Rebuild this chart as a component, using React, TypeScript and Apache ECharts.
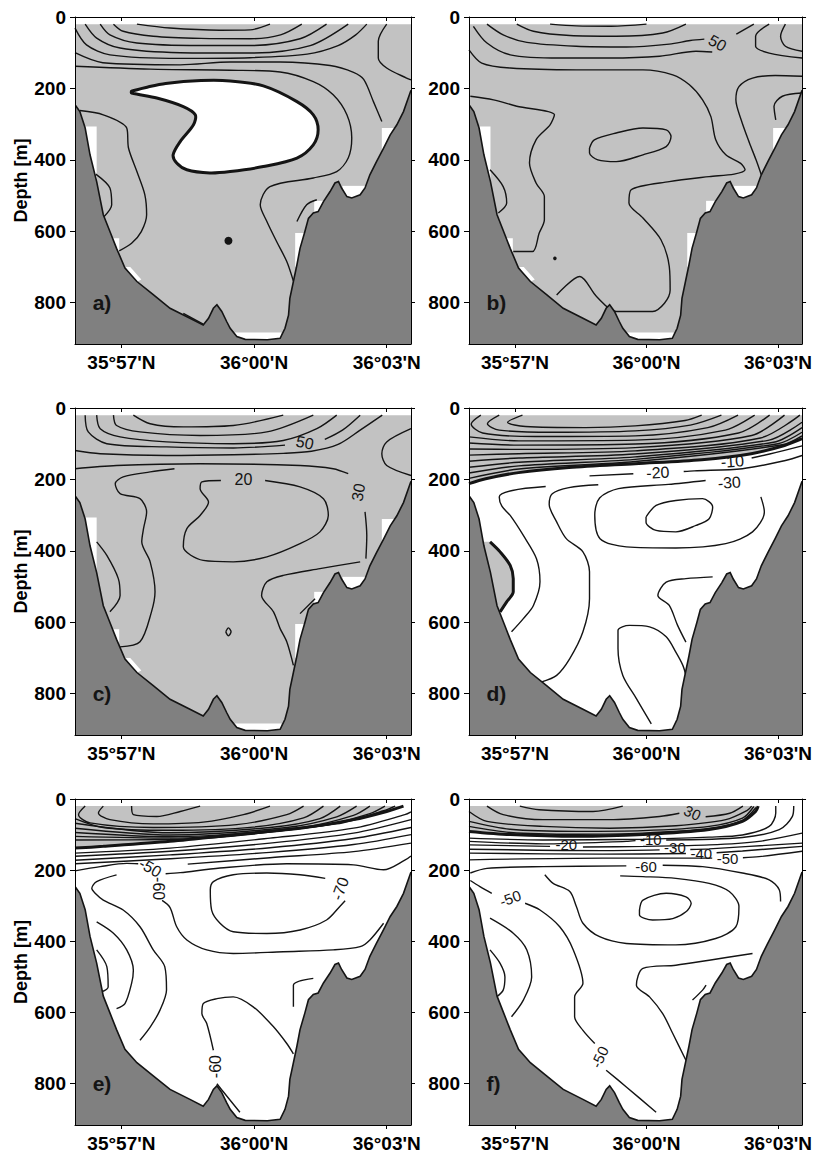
import React, { useEffect, useRef } from "react";
import * as echarts from "echarts";

type Pt = [number, number];
type Lbl = [string, number, number, number];

// ---- axes ----
const LAT_MIN = -4.05;
const LAT_MAX = 3.55;
const DEPTH_MAX = 916;
const DATA_TOP = 20;
const latTicks = [-3, 0, 3];
const latTickLabels = ["35°57'N", "36°00'N", "36°03'N"];
const depthTicks = [0, 200, 400, 600, 800];
const panelLetters = ["a)", "b)", "c)", "d)", "e)", "f)"];
const letterPos: Pt = [-3.65, 800];

// ---- bathymetry (lat minutes from 36°00'N, depth m) ----
const bathymetry: Pt[] = [
  [-4.05, 246], [-3.94, 265], [-3.82, 311], [-3.71, 386], [-3.56, 461], [-3.41, 554], [-3.26, 601],
  [-3.11, 648], [-2.92, 703], [-2.65, 741], [-2.28, 778], [-1.9, 816], [-1.45, 844], [-1.15, 863],
  [-1.03, 844], [-0.92, 816], [-0.84, 806], [-0.73, 825], [-0.62, 853], [-0.54, 872], [-0.39, 895],
  [-0.2, 903], [0.3, 904], [0.59, 900], [0.7, 872], [0.78, 835], [0.81, 788], [0.89, 741], [0.97, 694],
  [1.04, 648], [1.15, 601], [1.23, 564], [1.34, 549], [1.45, 545], [1.57, 517], [1.72, 489], [1.83, 465],
  [1.91, 461], [1.98, 479], [2.1, 503], [2.21, 507], [2.4, 498], [2.51, 479], [2.62, 442], [2.77, 405],
  [2.93, 367], [3.08, 330], [3.23, 302], [3.38, 265], [3.55, 205],
];

// white (no data) gaps along the bottom, panels a-c
const maskGaps: Pt[][] = [
  [[-3.83, 307], [-3.56, 307], [-3.56, 461], [-3.71, 386], [-3.82, 311]],
  [[-3.2, 620], [-3.05, 620], [-3.05, 660], [-3.2, 640]],
  [[-2.9, 700], [-2.8, 700], [-2.55, 735], [-2.7, 745]],
  [[-0.45, 884], [0.62, 884], [0.62, 916], [-0.45, 916]],
  [[0.93, 605], [1.15, 605], [1.15, 700], [0.93, 700]],
  [[1.36, 515], [1.6, 515], [1.6, 560], [1.36, 560]],
  [[2.0, 473], [2.55, 473], [2.55, 520], [2.0, 520]],
  [[2.89, 311], [3.2, 311], [3.2, 380], [2.89, 380]],
];

// ---- panel a ----
const thinA: Pt[][] = [
  [[-2.65, 20], [-1.9, 31], [-0.77, 37], [-0.09, 36], [0.36, 20]],
  [[-3.18, 20], [-2.96, 40], [-2.28, 54], [-1.2, 60], [-0.09, 61], [0.6, 50], [1.08, 20]],
  [[-3.48, 20], [-3.26, 50], [-2.65, 73], [-1.22, 80], [-0.09, 80], [1.04, 61], [1.64, 20]],
  [[-3.82, 20], [-3.56, 59], [-3.03, 87], [-1.67, 100], [-0.09, 101], [1.27, 80], [2.13, 20]],
  [[-4.05, 31], [-3.79, 78], [-3.26, 106], [-1.67, 116], [-0.09, 114], [1.2, 104], [1.9, 80], [2.3, 50], [2.55, 20]],
  [[-4.05, 100], [-3.42, 128], [-1.67, 134], [-0.54, 126], [0.59, 126], [1.72, 136], [2.25, 155], [2.48, 175], [2.7, 237], [2.89, 293]],
  [[-4.05, 138], [-2.35, 146], [-0.54, 149], [0.59, 154], [1.34, 181], [1.79, 218], [2.1, 274], [2.21, 339], [2.13, 395], [1.87, 433], [1.34, 451], [0.36, 475], [0.14, 526], [0.29, 573], [0.51, 629], [0.74, 685], [0.89, 740]],
  [[3.0, 20], [2.81, 68], [2.81, 115], [3.0, 143], [3.45, 171], [3.55, 176]],
  [[-3.94, 262], [-3.41, 274], [-2.88, 311], [-2.84, 367], [-2.65, 433], [-2.47, 498], [-2.43, 554], [-2.55, 601], [-2.77, 634], [-3.05, 655]],
  [[-3.58, 440], [-3.26, 479], [-3.22, 526], [-3.4, 560]],
  [[0.97, 573], [1.19, 526], [1.42, 512]],
  [[-1.6, 830], [-1.15, 860]],
];
const blobA: Pt[] = [
  [-2.77, 208], [-2.4, 196], [-2.0, 186], [-1.2, 178], [-0.54, 179], [0.21, 193], [0.97, 237], [1.34, 274],
  [1.45, 316], [1.34, 358], [0.97, 395], [0.21, 419], [-0.54, 433], [-1.0, 437], [-1.52, 428], [-1.75, 409],
  [-1.83, 386], [-1.67, 349], [-1.37, 302], [-1.33, 274], [-1.6, 251], [-2.2, 227], [-2.77, 213],
];
const dotsA: Pt[] = [[-0.58, 627]];

// ---- panel b ----
const thinB: Pt[][] = [
  [[-2.2, 20], [-1.6, 25], [-0.8, 26], [0, 20]],
  [[-2.96, 20], [-2.58, 40], [-1.75, 52], [-0.69, 54], [0.37, 45], [0.9, 20]],
  [[-3.64, 20], [-3.27, 50], [-2.73, 71], [-1.6, 82], [-0.46, 84], [0.52, 76], [1.0, 66], [1.32, 62]],
  [[2.05, 48], [2.45, 20]],
  [[-3.95, 26], [-3.64, 73], [-3.11, 106], [-1.98, 115], [-0.84, 115], [0.3, 110], [1.13, 96], [1.5, 98]],
  [[3.17, 20], [3.06, 54], [3.17, 82], [3.55, 96]],
  [[2.8, 20], [2.49, 54], [2.49, 82], [2.8, 101], [3.55, 115]],
  [[-4.05, 92], [-3.76, 129], [-3.11, 143], [-1.6, 148], [-0.08, 148], [0.6, 162], [0.98, 190], [1.28, 232], [1.47, 279], [1.58, 344], [1.81, 386], [2.15, 410], [2.25, 428], [2.0, 440], [1.43, 447], [0.52, 461], [-0.35, 484], [-0.4, 521], [-0.08, 563], [0.33, 624], [0.52, 699], [0.54, 765], [0.41, 802], [0.14, 825], [-0.69, 825], [-1.14, 783], [-1.52, 727], [-2.05, 779]],
  [[3.55, 166], [2.94, 164], [2.42, 171], [2.11, 195], [2.04, 232], [2.16, 288], [2.35, 353], [2.5, 400], [2.62, 442]],
  [[3.55, 213], [3.1, 222], [2.91, 250], [2.95, 288]],
  [[-4.02, 222], [-3.49, 232], [-2.96, 250], [-2.1, 274], [-2.2, 302], [-2.52, 344], [-2.67, 409], [-2.52, 465], [-2.33, 503], [-2.33, 568], [-2.45, 606], [-2.6, 657], [-3.04, 657]],
  [[-3.57, 428], [-3.27, 475], [-3.19, 521], [-3.38, 549]],
  [[-1.3, 367], [-1.19, 344], [-0.69, 325], [-0.08, 311], [0.45, 316], [0.56, 335], [0.45, 363], [-0.08, 386], [-0.69, 405], [-1.11, 400], [-1.3, 381], [-1.3, 367]],
];
const dotsB: Pt[] = [[-2.09, 676]];
const labelsB: Lbl[] = [["50", 1.62, 73, -30]];

// ---- panel c ----
const thinC: Pt[][] = [
  [[-2.73, 20], [-2.35, 44], [-1.6, 53], [-0.47, 49], [0.66, 20]],
  [[-3.18, 20], [-3.11, 49], [-2.58, 67], [-1.22, 77], [0.29, 67], [1.34, 20]],
  [[-3.56, 20], [-3.48, 58], [-3.03, 81], [-1.98, 95], [-0.47, 100], [0.66, 91], [1.42, 58], [1.87, 20]],
  [[-3.82, 20], [-3.75, 67], [-3.33, 100], [-1.98, 109], [-0.47, 112], [0.7, 104]],
  [[1.6, 88], [2.0, 62], [2.4, 20]],
  [[-4.05, 119], [-3.48, 128], [-1.98, 133], [-0.47, 131], [0.66, 127], [1.3, 121], [1.9, 102], [2.4, 62], [2.9, 20]],
  [[3.55, 58], [3.0, 95], [2.89, 128], [3.0, 161], [3.55, 189]],
  [[-4.05, 170], [-3.11, 161], [-1.22, 156], [1.04, 161], [1.79, 170], [2.13, 184]],
  [[2.51, 291], [2.55, 357], [2.53, 422]],
  [[2.4, 431], [1.49, 450], [0.66, 469], [0.29, 487], [0.17, 525], [0.44, 571], [0.59, 618], [0.74, 655], [0.89, 721]],
  [[1.04, 576], [1.38, 534]],
  [[0.25, 203], [1.04, 221], [1.57, 254], [1.68, 301], [1.49, 347], [1.04, 380], [0.29, 417], [-0.47, 431], [-1.15, 427], [-1.6, 389], [-1.52, 338], [-1.22, 301], [-1.03, 263], [-1.22, 226], [-1.18, 207], [-0.75, 203]],
  [[-1.8, 170], [-2.35, 179], [-2.96, 193], [-3.14, 212], [-3.03, 240], [-2.58, 254], [-2.43, 291], [-2.5, 338], [-2.54, 375], [-2.35, 431], [-2.24, 515], [-2.32, 571], [-2.58, 655], [-3.03, 669]],
  [[-3.56, 375], [-3.33, 413], [-3.07, 478], [-3.03, 525], [-3.26, 571]],
  [[-0.64, 627], [-0.58, 616], [-0.52, 627], [-0.58, 638], [-0.64, 627]],
];
const labelsC: Lbl[] = [["50", 1.15, 97, -12], ["20", -0.24, 201, 0], ["30", 2.36, 236, 80]];

// ---- panel d ----
const thickD: Pt[] = [[-4.05, 212], [-3.67, 198], [-2.92, 181], [-1.77, 167], [-0.26, 156], [1.26, 145], [2.39, 128], [3.15, 105], [3.55, 86]];
const leftThickD: Pt[] = [[-3.57, 375], [-3.34, 403], [-3.11, 441], [-3.04, 478], [-3.04, 515], [-3.19, 543], [-3.34, 571]];
const thinD: Pt[][] = [
  [[-2.83, 20], [-3.17, 40], [-2.76, 52], [-1.39, 55], [-0.26, 50], [0.88, 35], [1.26, 20]],
  [[-3.36, 20], [-3.63, 44], [-3.36, 62], [-2.15, 68], [-0.26, 64], [1.0, 48], [1.71, 20]],
  [[-3.78, 20], [-4.0, 45], [-3.74, 70], [-2.53, 80], [-0.26, 78], [1.4, 55], [2.09, 20]],
  [[-4.05, 81], [-2.91, 92], [-0.26, 90], [1.8, 62], [2.47, 20]],
  [[-4.05, 98], [-2.91, 104], [-0.26, 101], [2.1, 70], [2.81, 20]],
  [[-4.05, 115], [-2.91, 116], [-0.26, 111], [2.4, 77], [3.15, 20]],
  [[-4.05, 132], [-2.91, 128], [-0.26, 120], [2.6, 84], [3.5, 20]],
  [[-4.05, 149], [-2.91, 140], [-0.26, 129], [2.8, 90], [3.55, 40]],
  [[-4.05, 166], [-2.91, 152], [-0.26, 137], [2.9, 96], [3.55, 55]],
  [[-4.05, 182], [-2.91, 162], [-0.26, 144], [3.0, 100], [3.55, 68]],
  [[-4.05, 197], [-2.91, 171], [-0.26, 150], [3.1, 103], [3.55, 78]],
  [[2.4, 140], [2.81, 129], [3.55, 106]],
  [[-1.3, 190], [-0.3, 184]],
  [[0.85, 178], [1.09, 176], [2.19, 170], [3.17, 147], [3.55, 133]],
  [[1.35, 203], [0.5, 214], [-0.64, 226], [-1.07, 252], [-1.18, 300], [-1.06, 366], [-0.46, 389], [0.67, 392], [1.81, 380], [2.42, 347], [2.69, 291], [2.61, 249]],
  [[-0.01, 305], [0.22, 273], [0.67, 259], [1.28, 254], [1.51, 277], [1.43, 310], [1.13, 329], [0.67, 347], [0.22, 343], [-0.01, 320], [-0.01, 305]],
  [[-2.3, 220], [-3.06, 231], [-3.36, 249], [-3.3, 275], [-3.11, 301], [-2.81, 357], [-2.51, 422], [-2.43, 487], [-2.58, 553], [-2.81, 590], [-3.08, 627]],
  [[-1.1, 215], [-1.77, 223], [-2.15, 240], [-2.22, 270], [-2.05, 319], [-1.83, 366], [-1.45, 403], [-1.3, 459], [-1.3, 534], [-1.45, 627], [-1.75, 702], [-2.05, 749], [-2.39, 767]],
  [[0.11, 885], [-0.23, 814], [-0.54, 749], [-0.65, 674], [-0.65, 623], [-0.39, 609], [0.07, 613], [0.45, 641], [0.67, 684], [0.83, 721], [0.9, 749]],
  [[1.51, 473], [0.9, 478], [0.45, 488], [0.26, 525], [0.52, 553], [0.71, 609], [0.9, 656]],
];
const labelsD: Lbl[] = [["-10", 1.96, 150, 4], ["-20", 0.26, 181, 3], ["-30", 1.89, 209, 4]];

// ---- panel e ----
const thickE: Pt[] = [[-4.05, 138], [-3.41, 133], [-1.9, 119], [-0.39, 100], [1.12, 81], [2.25, 58], [3.0, 35], [3.38, 20]];
const thinE: Pt[][] = [
  [[-2.77, 20], [-2.73, 44], [-2.2, 49], [-1.67, 35], [-1.22, 20]],
  [[-3.41, 20], [-3.52, 39], [-3.26, 58], [-2.28, 70], [-1.15, 65], [-0.24, 44], [0.36, 20]],
  [[-3.82, 20], [-3.97, 44], [-3.71, 67], [-2.28, 80], [-0.39, 72], [0.74, 44], [1.12, 20]],
  [[-4.05, 55], [-3.41, 80], [-1.9, 88], [-0.02, 79], [1.12, 53], [1.57, 20]],
  [[-4.05, 68], [-1.9, 95], [0.36, 80], [1.49, 55], [1.95, 20]],
  [[-4.05, 82], [-1.9, 101], [0.74, 80], [1.87, 50], [2.32, 20]],
  [[-4.05, 94], [-1.9, 106], [1.12, 79], [2.25, 46], [2.62, 20]],
  [[-4.05, 105], [-1.9, 110], [1.49, 76], [2.62, 41], [2.96, 20]],
  [[-4.05, 115], [-1.9, 114], [1.87, 70], [2.93, 33], [3.19, 20]],
  [[-4.05, 152], [-1.9, 138], [0.36, 110], [2.25, 82], [3.41, 44], [3.55, 36]],
  [[-4.05, 161], [-1.9, 147], [0.36, 124], [2.25, 96], [3.55, 58]],
  [[-4.05, 172], [-1.9, 157], [0.36, 137], [2.25, 111], [3.55, 80]],
  [[-4.05, 182], [-1.9, 168], [0.36, 150], [2.25, 128], [3.55, 100]],
  [[-1.5, 183], [0.36, 165], [2.25, 148], [3.55, 124]],
  [[-4.05, 202], [-3.48, 190], [-2.88, 181], [-2.62, 182]],
  [[-2.0, 210], [-1.67, 207], [-0.77, 194], [0.74, 182], [2.25, 185], [2.93, 199], [3.41, 172], [3.55, 160]],
  [[-2.08, 285], [-1.9, 305], [-1.75, 359], [-1.52, 396], [-1.07, 424], [-0.47, 434], [0.66, 429], [1.79, 424], [2.4, 415], [2.62, 396], [2.93, 349]],
  [[-3.11, 213], [-3.56, 232], [-3.67, 251], [-3.6, 264], [-3.41, 284], [-2.96, 312], [-2.58, 359], [-2.28, 424], [-2.02, 471], [-1.98, 537], [-2.13, 594], [-2.35, 641], [-2.58, 678]],
  [[-3.56, 345], [-3.18, 377], [-2.88, 424], [-2.73, 481], [-2.77, 518], [-2.92, 575], [-3.11, 589]],
  [[-3.56, 424], [-3.33, 471], [-3.3, 528], [-3.45, 542]],
  [[1.61, 223], [1.04, 213], [0.29, 208], [-0.47, 213], [-0.92, 232], [-0.99, 256], [-0.96, 312], [-0.77, 349], [-0.47, 373], [0.29, 378], [1.04, 368], [1.64, 340], [1.94, 302], [2.06, 286]],
  [[-0.92, 706], [-1.07, 631], [-1.18, 603], [-1.15, 575], [-0.84, 561], [-0.47, 556], [-0.02, 584], [0.44, 640], [0.74, 687], [0.89, 716]],
  [[-0.84, 800], [-0.7, 822], [-0.32, 880]],
  [[1.34, 504], [0.89, 523], [0.89, 584]],
];
const labelsE: Lbl[] = [["-50", -2.35, 193, -30], ["-60", -2.17, 252, -90], ["-70", 1.95, 252, 70], ["-60", -0.88, 752, 90]];

// ---- panel f ----
const thickF: Pt[] = [[-4.05, 91], [-3.11, 100], [-1.6, 105], [-0.08, 100], [1.43, 86], [2.19, 63], [2.49, 35], [2.55, 20]];
const thinF: Pt[][] = [
  [[-2.89, 20], [-2.45, 30], [-1.22, 35], [-0.54, 20]],
  [[-3.64, 20], [-3.27, 44], [-2.36, 58], [-0.84, 58], [0.3, 49], [0.75, 40]],
  [[1.35, 50], [1.9, 40], [2.2, 20]],
  [[-4.05, 35], [-3.64, 63], [-2.36, 77], [-0.84, 82], [0.67, 75], [1.81, 58], [2.3, 32], [2.4, 20]],
  [[-4.05, 63], [-3.11, 85], [-1.6, 91], [-0.08, 89], [1.43, 77], [2.19, 54], [2.45, 21]],
  [[-4.05, 77], [-3.11, 94], [-1.6, 99], [-0.08, 96], [1.43, 83], [2.19, 60], [2.5, 24]],
  [[-4.05, 110], [-2.36, 115], [-0.08, 113], [1.43, 107], [2.19, 101], [2.8, 77], [2.95, 39], [2.95, 20]],
  [[-4.05, 119], [-2.36, 126], [-0.46, 119], [-0.25, 117]],
  [[0.45, 115], [2.19, 108], [3.03, 86], [3.33, 49], [3.36, 20]],
  [[-4.05, 129], [-2.2, 133]],
  [[-1.45, 135], [-0.08, 133], [1.43, 129], [2.57, 119], [3.55, 96]],
  [[-4.05, 141], [-1.0, 145], [0.3, 143]],
  [[1.0, 142], [1.43, 140], [3.55, 124]],
  [[-4.05, 152], [-1.0, 155], [0.9, 153]],
  [[1.6, 151], [2.19, 146], [3.55, 133]],
  [[-4.05, 171], [-1.0, 166], [1.5, 166]],
  [[2.2, 165], [2.57, 162], [3.55, 147]],
  [[-4.02, 208], [-3.64, 195], [-2.36, 190], [-0.46, 188]],
  [[0.37, 186], [1.28, 190], [2.19, 208], [2.8, 227], [3.03, 255], [3.06, 288]],
  [[-2.32, 213], [-2.13, 237], [-1.75, 260], [-1.6, 302], [-1.45, 349], [-1.07, 387], [-0.46, 406], [0.67, 410], [1.58, 392], [2.04, 359], [2.11, 302], [1.89, 260], [1.43, 237], [0.67, 223], [-0.08, 218], [-0.6, 216]],
  [[-0.16, 312], [-0.08, 284], [0.45, 265], [0.9, 275], [1.02, 293], [0.9, 317], [0.6, 336], [0.14, 340], [-0.16, 326], [-0.16, 312]],
  [[-4.02, 229], [-3.8, 246], [-3.53, 265]],
  [[-2.77, 293], [-2.43, 312], [-1.98, 359], [-1.67, 424], [-1.45, 518], [-1.64, 556], [-1.64, 612], [-1.45, 650], [-1.18, 687]],
  [[-0.92, 762], [-0.46, 809], [0.22, 880]],
  [[-3.57, 335], [-3.04, 377], [-2.73, 424], [-2.62, 500], [-2.81, 565], [-3.08, 612]],
  [[-3.57, 424], [-3.34, 462], [-3.23, 500], [-3.27, 537], [-3.42, 556]],
  [[2.42, 434], [1.43, 453], [0.67, 467], [-0.08, 476], [-0.23, 523], [0.07, 556], [0.37, 603], [0.6, 659], [0.9, 734]],
  [[1.05, 565], [1.28, 537], [1.36, 523]],
];
const labelsF: Lbl[] = [
  ["30", 1.05, 39, -25], ["-20", -1.83, 129, 0], ["-10", 0.1, 113, 0], ["-30", 0.65, 137, 0],
  ["-40", 1.25, 152, 0], ["-50", 1.85, 166, 0], ["-60", -0.01, 190, 0], ["-50", -3.11, 279, 20], ["-50", -1.07, 725, 65],
];

// ---- style ----
const FONT = '"Liberation Sans", Arial, Helvetica, sans-serif';
const LIGHT = "#c2c2c2";
const DARK = "#808080";
const INK = "#141414";
const GRID_LEFT = [75, 469];
const GRID_W = [336, 337];
const GRID_TOP = [17, 408, 799];
const GRID_H = [327, 327, 326];

const waterRect: Pt[] = [[LAT_MIN, DATA_TOP], [LAT_MAX, DATA_TOP], [LAT_MAX, DEPTH_MAX], [LAT_MIN, DEPTH_MAX]];
const leftGrayD: Pt[] = [...leftThickD, [-3.5, 575], [-3.8, 470], [-3.8, 375]];

const panels: any[] = [
  { fills: [waterRect], gaps: true, thin: thinA, thick: [], blobs: [blobA], dots: dotsA, dotR: 4, labels: [], lf: 16 },
  { fills: [waterRect], gaps: true, thin: thinB, thick: [], blobs: [], dots: dotsB, dotR: 1.8, labels: labelsB, lf: 16 },
  { fills: [waterRect], gaps: true, thin: thinC, thick: [], blobs: [], dots: [], dotR: 0, labels: labelsC, lf: 16 },
  { fills: [[[LAT_MIN, DATA_TOP], [LAT_MAX, DATA_TOP], ...thickD.slice().reverse()], leftGrayD], gaps: false, thin: thinD, thick: [thickD, leftThickD], blobs: [], dots: [], dotR: 0, labels: labelsD, lf: 16 },
  { fills: [[[LAT_MIN, DATA_TOP], ...thickE.slice().reverse()]], gaps: false, thin: thinE, thick: [thickE], blobs: [], dots: [], dotR: 0, labels: labelsE, lf: 16 },
  { fills: [[[LAT_MIN, DATA_TOP], ...thickF.slice().reverse()]], gaps: false, thin: thinF, thick: [thickF], blobs: [], dots: [], dotR: 0, labels: labelsF, lf: 15 },
];

function shapeSeries(gi: number, z: number, build: (c: (p: Pt) => number[]) => any[]) {
  return {
    type: "custom",
    xAxisIndex: 2 * gi,
    yAxisIndex: 2 * gi,
    z,
    silent: true,
    clip: true,
    data: [[0, 0]],
    renderItem: (_p: any, api: any) => ({ type: "group", children: build((p: Pt) => api.coord(p)) }),
  };
}

function lineSeries(gi: number, lines: Pt[][], width: number) {
  return lines.map((pts) => ({
    type: "line",
    xAxisIndex: 2 * gi,
    yAxisIndex: 2 * gi,
    data: pts,
    smooth: 0.3,
    symbol: "none",
    silent: true,
    clip: true,
    z: 3,
    lineStyle: { color: INK, width },
  }));
}

function buildOption() {
  const grid: any[] = [];
  const xAxis: any[] = [];
  const yAxis: any[] = [];
  const series: any[] = [];
  const lineCol = { color: "#000", width: 1 };
  panels.forEach((p, i) => {
    const col = i % 2;
    const row = Math.floor(i / 2);
    grid.push({ left: GRID_LEFT[col], top: GRID_TOP[row], width: GRID_W[col], height: GRID_H[row] });
    xAxis.push({
      gridIndex: i, type: "value", min: LAT_MIN, max: LAT_MAX, position: "bottom", z: 10,
      axisLine: { show: true, onZero: false, lineStyle: lineCol },
      axisTick: { show: true, inside: false, length: 4, customValues: latTicks, lineStyle: lineCol },
      axisLabel: {
        show: true, customValues: latTicks, margin: 9, color: "#000", fontSize: 19, fontWeight: "bold", fontFamily: FONT,
        formatter: (v: number) => latTickLabels[latTicks.indexOf(Math.round(v))] || "",
      },
      splitLine: { show: false },
    });
    xAxis.push({
      gridIndex: i, type: "value", min: LAT_MIN, max: LAT_MAX, position: "top", z: 10,
      axisLine: { show: true, onZero: false, lineStyle: lineCol },
      axisTick: { show: true, inside: true, length: 4, customValues: latTicks, lineStyle: lineCol },
      axisLabel: { show: false },
      splitLine: { show: false },
    });
    yAxis.push({
      gridIndex: i, type: "value", inverse: true, min: 0, max: DEPTH_MAX, position: "left", z: 10,
      name: col === 0 ? "Depth [m]" : "",
      nameLocation: "middle", nameGap: 43,
      nameTextStyle: { fontSize: 18, fontWeight: "bold", fontFamily: FONT, color: "#000" },
      axisLine: { show: true, onZero: false, lineStyle: lineCol },
      axisTick: { show: true, inside: false, length: 5, customValues: depthTicks, lineStyle: lineCol },
      axisLabel: { show: true, customValues: depthTicks, margin: 9, color: "#000", fontSize: 19, fontWeight: "bold", fontFamily: FONT },
      splitLine: { show: false },
    });
    yAxis.push({
      gridIndex: i, type: "value", inverse: true, min: 0, max: DEPTH_MAX, position: "right", z: 10,
      axisLine: { show: true, onZero: false, lineStyle: lineCol },
      axisTick: { show: true, inside: false, length: 4, customValues: depthTicks, lineStyle: lineCol },
      axisLabel: { show: false },
      splitLine: { show: false },
    });

    // gray data fill and white no-data gaps
    series.push(
      shapeSeries(i, 1, (c) => [
        ...p.fills.map((poly: Pt[]) => ({ type: "polygon", shape: { points: poly.map(c) }, style: { fill: LIGHT } })),
        ...(p.gaps ? maskGaps.map((poly) => ({ type: "polygon", shape: { points: poly.map(c) }, style: { fill: "#fff" } })) : []),
      ])
    );
    series.push(...lineSeries(i, p.thin, 1.4));
    series.push(...lineSeries(i, p.thick, 3));
    if (p.blobs.length || p.dots.length) {
      series.push(
        shapeSeries(i, 3, (c) => [
          ...p.blobs.map((poly: Pt[]) => ({
            type: "polygon",
            shape: { points: poly.map(c), smooth: 0.3 },
            style: { fill: "#fff", stroke: INK, lineWidth: 3 },
          })),
          ...p.dots.map((d: Pt) => {
            const q = c(d);
            return { type: "circle", shape: { cx: q[0], cy: q[1], r: p.dotR }, style: { fill: INK } };
          }),
        ])
      );
    }
    // bathymetry
    series.push(
      shapeSeries(i, 4, (c) => [
        {
          type: "polygon",
          shape: { points: [...bathymetry, [LAT_MAX, DEPTH_MAX], [LAT_MIN, DEPTH_MAX]].map((q: any) => c(q)) },
          style: { fill: DARK },
        },
        { type: "polyline", shape: { points: bathymetry.map(c) }, style: { fill: "none", stroke: INK, lineWidth: 1.6 } },
      ])
    );
    // labels
    series.push(
      shapeSeries(i, 5, (c) => [
        ...p.labels.map((l: Lbl) => {
          const q = c([l[1], l[2]]);
          return {
            type: "text", x: q[0], y: q[1], rotation: (l[3] * Math.PI) / 180,
            style: { text: l[0], fill: INK, fontSize: p.lf, fontFamily: FONT, align: "center", verticalAlign: "middle" },
          };
        }),
        (() => {
          const q = c(letterPos);
          return {
            type: "text", x: q[0], y: q[1],
            style: { text: panelLetters[i], fill: INK, fontSize: 21, fontWeight: "bold", fontFamily: FONT, align: "left", verticalAlign: "middle" },
          };
        })(),
      ])
    );
  });
  return { animation: false, backgroundColor: "#fff", grid, xAxis, yAxis, series };
}

export default function App() {
  const ref = useRef<HTMLDivElement>(null);
  useEffect(() => {
    if (!ref.current) return;
    const chart = echarts.init(ref.current, null, { renderer: "svg" });
    chart.setOption(buildOption() as any);
    return () => chart.dispose();
  }, []);
  return <div ref={ref} style={{ position: "absolute", left: 0, top: 0, width: 815, height: 1153, background: "#fff" }} />;
}
